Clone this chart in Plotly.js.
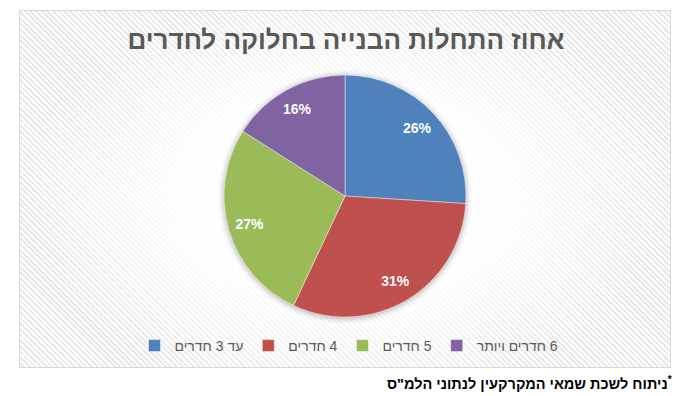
<!DOCTYPE html>
<html>
<head>
<meta charset="utf-8">
<script src="https://cdn.plot.ly/plotly-3.0.1.min.js"></script>
<style>
html,body{margin:0;padding:0;background:#fff;width:684px;height:396px;overflow:hidden;}
#bg{position:absolute;left:19px;top:10px;width:650px;height:356px;border:1px solid #d9d9d9;
background:
 radial-gradient(ellipse 50% 58% at 50% 52%, rgba(255,255,255,1) 0%, rgba(255,255,255,0.9) 50%, rgba(255,255,255,0) 100%),
 repeating-linear-gradient(45deg, #ffffff 0px, #ffffff 2px, #e8e8e8 2px, #e8e8e8 4px);}
#chart{position:absolute;left:0;top:0;width:684px;height:396px;}
#chart .pielayer .trace:first-child{filter:drop-shadow(0px 1px 3px rgba(0,0,0,0.35));}
</style>
</head>
<body>
<div id="bg"></div>
<div id="chart"></div>
<script>
const titleText = 'אחוז התחלות הבנייה בחלוקה לחדרים';
const categories = ['עד 3 חדרים', '4 חדרים', '5 חדרים', '6 חדרים ויותר'];
const shares = [26, 31, 27, 16];
const colors = ['#4f81bd', '#c0504d', '#9bbb59', '#8064a2'];
const footnote = 'ניתוח לשכת שמאי המקרקעין לנתוני הלמ"ס';

const RLM = '\u200F';
const FONT = 'Liberation Sans, Arial, sans-serif';
const pieDomain = {x: [224/684, 466/684], y: [1 - 317/396, 1 - 75/396]};

const slices = {
  type: 'pie',
  labels: categories.map(c => RLM + c),
  values: shares,
  sort: false,
  direction: 'clockwise',
  rotation: 0,
  marker: {colors: colors, line: {color: 'rgba(255,255,255,0.45)', width: 1}},
  textinfo: 'none',
  hoverinfo: 'label+percent',
  domain: pieDomain
};

// transparent ring carrying the data labels, so they sit in the outer part of each slice
const labelRing = {
  type: 'pie',
  labels: categories.map(c => RLM + c),
  values: shares,
  sort: false,
  direction: 'clockwise',
  rotation: 0,
  hole: 0.64,
  showlegend: false,
  marker: {colors: colors.map(() => 'rgba(0,0,0,0)'), line: {width: 0}},
  textinfo: 'percent',
  textposition: 'inside',
  insidetextorientation: 'horizontal',
  insidetextfont: {family: FONT, size: 14, color: '#ffffff', weight: 'bold'},
  hoverinfo: 'skip',
  domain: pieDomain
};

const layout = {
  width: 684, height: 396,
  margin: {l: 0, r: 0, t: 0, b: 0},
  paper_bgcolor: 'rgba(0,0,0,0)',
  plot_bgcolor: 'rgba(0,0,0,0)',
  font: {family: FONT, color: '#595959'},
  title: {text: titleText, x: 346/684, xanchor: 'center', y: 1 - 40/396, yanchor: 'middle',
          font: {family: FONT, size: 26, color: '#595959', weight: 'bold'}},
  showlegend: true,
  legend: {orientation: 'h', x: 349/684, xanchor: 'center', y: 1 - 346/396, yanchor: 'middle',
           font: {family: FONT, size: 14, color: '#595959'},
           bgcolor: 'rgba(0,0,0,0)', itemwidth: 30, traceorder: 'normal'},
  annotations: [{
    text: RLM + '<sup>*</sup>' + footnote,
    xref: 'paper', yref: 'paper', x: 674/684, xanchor: 'right', y: 1 - 383/396, yanchor: 'middle',
    showarrow: false,
    font: {family: FONT, size: 14.5, color: '#000000', weight: 'bold'}
  }]
};

Plotly.newPlot('chart', [slices, labelRing], layout, {displayModeBar: false, staticPlot: true});
</script>
</body>
</html>
